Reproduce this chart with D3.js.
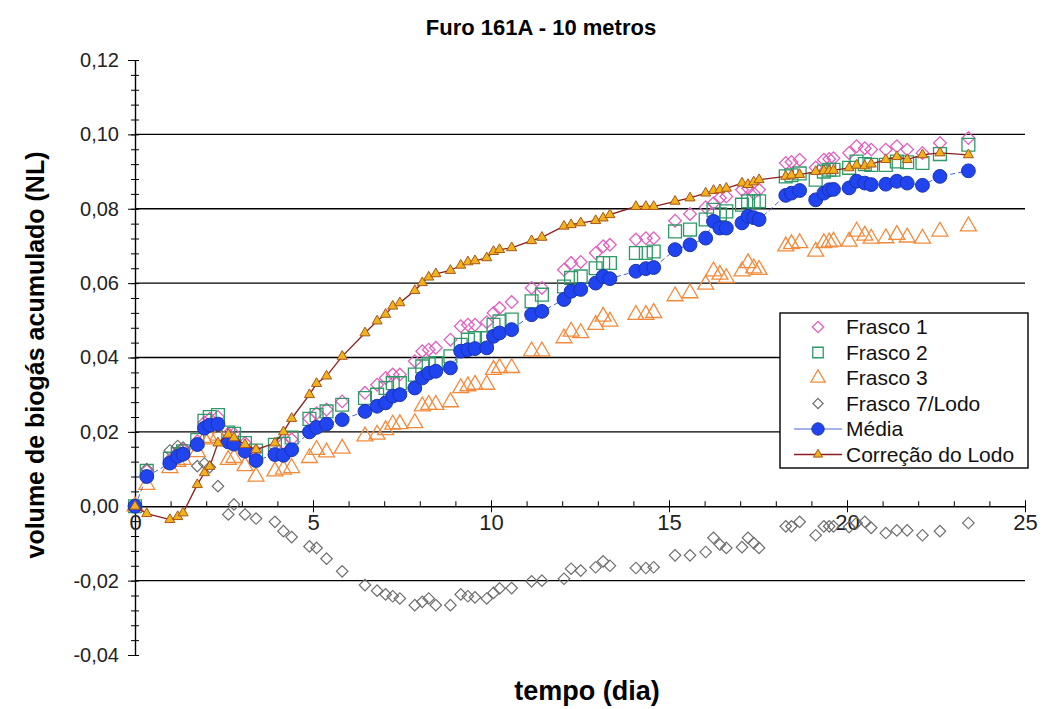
<!DOCTYPE html>
<html>
<head>
<meta charset="utf-8">
<script src="https://cdn.jsdelivr.net/npm/d3@7"></script>
<style>
  body { margin: 0; background: #fff; }
  svg { font-family: "Liberation Sans", Arial, sans-serif; }
</style>
</head>
<body>
<div id="chart"></div>
<script>
// tempo (dia) shared by all series
const tempo = [0, 0.33, 0.98, 1.2, 1.35, 1.75, 1.95, 2.1, 2.33, 2.62, 2.78, 3.09, 3.4, 3.93, 4.17, 4.4, 4.9, 5.1,
  5.38, 5.82, 6.46, 6.8, 7.04, 7.24, 7.44, 7.86, 8.07, 8.25, 8.45, 8.86, 9.15, 9.35, 9.55, 9.88, 10.07, 10.24, 10.58,
  11.14, 11.43, 12.05, 12.25, 12.52, 12.94, 13.15, 13.34, 14.07, 14.35, 14.57, 15.17, 15.59, 16.03, 16.25, 16.43,
  16.61, 17.05, 17.22, 17.38, 17.53, 18.28, 18.44, 18.67, 19.12, 19.35, 19.5, 19.62, 20.06, 20.27, 20.5, 20.68,
  21.09, 21.4, 21.69, 22.12, 22.61, 23.41];

const frasco1 = [0, 0.0095, 0.0125, 0.0145, 0.0152, 0.0175, 0.0225, 0.0235, 0.024, 0.0195, 0.0195, 0.017, 0.0148,
  0.016, 0.017, 0.018, 0.0235, 0.025, 0.026, 0.0282, 0.0305, 0.0327, 0.0345, 0.0354, 0.0354, 0.039, 0.0417, 0.0421,
  0.0426, 0.0448, 0.0484, 0.0488, 0.0488, 0.0495, 0.052, 0.0533, 0.0549, 0.0587, 0.0587, 0.0636, 0.0654, 0.0657,
  0.0681, 0.0699, 0.0703, 0.0717, 0.0721, 0.0721, 0.0768, 0.0786, 0.0804, 0.0815, 0.0829, 0.0833, 0.0851, 0.0855,
  0.0842, 0.0851, 0.0923, 0.0926, 0.0932, 0.0911, 0.0932, 0.0934, 0.0936, 0.095, 0.0968, 0.0963, 0.0959, 0.0959,
  0.0968, 0.0959, 0.095, 0.0977, 0.099];

const frasco2 = [0, 0.0095, 0.0128, 0.014, 0.0148, 0.0178, 0.023, 0.024, 0.0245, 0.0198, 0.0195, 0.017, 0.015,
  0.0165, 0.0168, 0.0185, 0.0235, 0.0245, 0.0255, 0.0273, 0.0291, 0.030, 0.0318, 0.0331, 0.0331, 0.0354, 0.0376,
  0.0382, 0.0385, 0.0403, 0.0434, 0.0448, 0.0452, 0.0452, 0.0488, 0.0497, 0.0502, 0.0551, 0.0569, 0.0591, 0.0614,
  0.0618, 0.064, 0.0654, 0.0654, 0.0681, 0.0681, 0.0685, 0.0739, 0.0744, 0.0771, 0.0797, 0.0785, 0.0793, 0.0811,
  0.082, 0.082, 0.082, 0.0887, 0.089, 0.0895, 0.0878, 0.090, 0.0905, 0.0905, 0.091, 0.0927, 0.092, 0.0918, 0.0918,
  0.0927, 0.0925, 0.0923, 0.0947, 0.0972];

const frasco3 = [0, 0.0058, 0.0103, 0.012, 0.0125, 0.0146, 0.018, 0.0184, 0.019, 0.0125, 0.013, 0.0108, 0.008,
  0.0094, 0.0099, 0.0103, 0.013, 0.0152, 0.0145, 0.0155, 0.0188, 0.0193, 0.0205, 0.022, 0.0221, 0.0224, 0.0269,
  0.0273, 0.0273, 0.028, 0.0318, 0.0323, 0.0327, 0.0327, 0.0367, 0.0372, 0.0372, 0.0417, 0.0417, 0.0452, 0.047,
  0.0466, 0.0488, 0.051, 0.0497, 0.0515, 0.0515, 0.052, 0.0565, 0.0573, 0.0596, 0.0632, 0.0623, 0.0614, 0.0632,
  0.0654, 0.064, 0.0636, 0.0699, 0.0705, 0.0708, 0.0685, 0.0708, 0.071, 0.0712, 0.0712, 0.0739, 0.0728, 0.072,
  0.0721, 0.073, 0.0723, 0.072, 0.0739, 0.0753];

const frasco7 = [0, 0.010, 0.015, 0.0162, 0.0158, 0.0108, 0.0115, 0.0105, 0.0054, -0.0022, 0.0005, -0.0022, -0.0033,
  -0.0042, -0.0067, -0.0083, -0.0108, -0.0112, -0.0141, -0.0175, -0.0212, -0.0227, -0.0237, -0.0242, -0.0248,
  -0.0266, -0.0257, -0.0248, -0.0266, -0.0266, -0.0237, -0.0242, -0.0245, -0.0248, -0.0233, -0.0221, -0.022,
  -0.0202, -0.02, -0.0195, -0.0168, -0.0173, -0.0164, -0.0148, -0.016, -0.0166, -0.0166, -0.0164, -0.0132, -0.0132,
  -0.0123, -0.0085, -0.0103, -0.0112, -0.011, -0.0085, -0.0099, -0.0112, -0.0054, -0.0054, -0.0042, -0.0078,
  -0.0054, -0.0054, -0.0054, -0.0056, -0.0045, -0.0042, -0.0058, -0.0072, -0.0065, -0.0065, -0.0078, -0.0067, -0.0045];

const media = [0, 0.008, 0.0116, 0.0134, 0.014, 0.0166, 0.021, 0.0218, 0.0221, 0.0173, 0.0167, 0.0148, 0.0123,
  0.0139, 0.0137, 0.0152, 0.020, 0.0212, 0.0221, 0.0233, 0.0255, 0.0269, 0.0278, 0.0296, 0.030, 0.0318, 0.0345,
  0.0358, 0.0363, 0.0372, 0.0417, 0.0421, 0.0424, 0.0426, 0.0457, 0.0466, 0.0475, 0.0515, 0.0524, 0.0556, 0.0578,
  0.0583, 0.060, 0.0618, 0.0612, 0.0632, 0.0639, 0.0642, 0.069, 0.0703, 0.0721, 0.0766, 0.0748, 0.0748, 0.0762,
  0.078, 0.0776, 0.0771, 0.0836, 0.0842, 0.0849, 0.0824, 0.0842, 0.0851, 0.0852, 0.0856, 0.0874, 0.0869, 0.0865,
  0.0866, 0.0874, 0.0869, 0.0863, 0.0887, 0.0902];

const correcao = [0, -0.002, -0.0036, -0.0028, -0.0018, 0.0058, 0.009, 0.0107, 0.017, 0.0193, 0.0184, 0.0166,
  0.0152, 0.017, 0.020, 0.0236, 0.030, 0.033, 0.035, 0.0403, 0.0466, 0.0498, 0.0516, 0.0538, 0.0547, 0.058, 0.0601,
  0.0616, 0.0625, 0.0634, 0.0648, 0.0657, 0.066, 0.0668, 0.0685, 0.069, 0.0695, 0.0714, 0.0723, 0.0753, 0.0757,
  0.0762, 0.0768, 0.0775, 0.0784, 0.0806, 0.0806, 0.0806, 0.082, 0.0829, 0.0842, 0.0849, 0.0851, 0.0855, 0.0869,
  0.0865, 0.0872, 0.0878, 0.0887, 0.089, 0.0892, 0.090, 0.0902, 0.0902, 0.0903, 0.091, 0.0917, 0.0915, 0.092,
  0.0932, 0.094, 0.0932, 0.0945, 0.095, 0.0945];

const yTicks = [-0.04, -0.02, 0, 0.02, 0.04, 0.06, 0.08, 0.10, 0.12];
const xTicks = [0, 5, 10, 15, 20, 25];

const W = 1057, H = 709;
const svg = d3.select("#chart").append("svg").attr("width", W).attr("height", H);

const x = d3.scaleLinear().domain([0, 25]).range([135, 1025]);
const y = d3.scaleLinear().domain([-0.04, 0.12]).range([655, 60]);
const fmt = v => d3.format(".2f")(v).replace(".", ",").replace("−", "-");

// gridlines
svg.append("g").selectAll("line")
  .data(yTicks.filter(v => v !== 0 && v !== 0.12 && v !== -0.04))
  .join("line")
  .attr("x1", x(0)).attr("x2", x(25))
  .attr("y1", d => y(d)).attr("y2", d => y(d))
  .attr("stroke", "#000").attr("stroke-width", 1.4);

// y axis
const yAxis = svg.append("g").attr("transform", `translate(${x(0)},0)`)
  .call(d3.axisLeft(y).tickValues(yTicks).tickFormat(fmt).tickSize(7).tickPadding(9).tickSizeOuter(0));
yAxis.selectAll("text").attr("font-size", 20).attr("fill", "#222");
yAxis.select(".domain").attr("stroke-width", 1.4);
svg.append("g").attr("transform", `translate(${x(0) + 4},0)`)
  .call(d3.axisLeft(y).tickValues(d3.range(-40, 121, 4).map(v => v / 1000)).tickFormat("").tickSize(8).tickSizeOuter(0))
  .select(".domain").remove();

// x axis at y = 0
const xAxis = svg.append("g").attr("transform", `translate(0,${y(0)})`)
  .call(d3.axisBottom(x).tickValues(xTicks).tickFormat(d3.format("d")).tickSize(6).tickPadding(2).tickSizeOuter(0));
xAxis.selectAll(".tick line").attr("y1", -6);
xAxis.selectAll("text").attr("font-size", 22).attr("fill", "#222");
xAxis.select(".domain").attr("stroke-width", 1.4);
svg.append("g").attr("transform", `translate(0,${y(0)})`)
  .call(d3.axisBottom(x).tickValues(d3.range(0, 26)).tickFormat("").tickSize(-5).tickSizeOuter(0))
  .select(".domain").remove();

const rows = tempo.map((t, i) => ({ t, f1: frasco1[i], f2: frasco2[i], f3: frasco3[i], f7: frasco7[i], m: media[i], c: correcao[i] }));

const series = [
  { key: "f1", name: "Frasco 1", sym: d3.symbolSquare, size: 80, rot: 45, fill: "none", stroke: "#e060c0", sw: 1.3 },
  { key: "f2", name: "Frasco 2", sym: d3.symbolSquare, size: 165, rot: 0, fill: "none", stroke: "#2f9a68", sw: 1.3 },
  { key: "f3", name: "Frasco 3", sym: d3.symbolTriangle, size: 110, rot: 0, fill: "none", stroke: "#f28a3c", sw: 1.3 },
  { key: "f7", name: "Frasco 7/Lodo", sym: d3.symbolSquare, size: 66, rot: 45, fill: "none", stroke: "#6e6e6e", sw: 1.2 },
  { key: "m", name: "Média", sym: d3.symbolCircle, size: 150, rot: 0, fill: "#1f44f0", stroke: "#1a33b0", sw: 1, line: "#4a66d8", dash: "5,3", lw: 1 },
  { key: "c", name: "Correção do Lodo", sym: d3.symbolTriangle, size: 44, rot: 0, fill: "#f2b21c", stroke: "#a8561c", sw: 1, line: "#8b1e1e", lw: 1.3 }
];

series.forEach(s => {
  if (s.line) {
    svg.append("path").datum(rows)
      .attr("fill", "none").attr("stroke", s.line).attr("stroke-width", s.lw)
      .attr("stroke-dasharray", s.dash || null)
      .attr("d", d3.line().x(d => x(d.t)).y(d => y(d[s.key])));
  }
  svg.append("g").selectAll("path")
    .data(rows)
    .join("path")
    .attr("transform", d => `translate(${x(d.t)},${y(d[s.key])}) rotate(${s.rot})`)
    .attr("d", d3.symbol(s.sym, s.size))
    .attr("fill", s.fill).attr("stroke", s.stroke).attr("stroke-width", s.sw);
});

// legend
const lg = svg.append("g").attr("transform", "translate(780,313)");
lg.append("rect").attr("width", 248).attr("height", 155).attr("fill", "#fff").attr("stroke", "#000").attr("stroke-width", 1.4);
series.forEach((s, i) => {
  const yy = 14 + i * 25.5;
  if (s.line) {
    lg.append("line").attr("x1", 14).attr("x2", 62).attr("y1", yy).attr("y2", yy)
      .attr("stroke", s.line).attr("stroke-width", s.lw);
  }
  lg.append("path")
    .attr("transform", `translate(38,${yy}) rotate(${s.rot})`)
    .attr("d", d3.symbol(s.sym, s.key === "f2" ? 110 : s.size * 0.8))
    .attr("fill", s.fill).attr("stroke", s.stroke).attr("stroke-width", s.sw);
  lg.append("text").attr("x", 66).attr("y", yy).attr("dy", "0.35em")
    .attr("font-size", 21).attr("fill", "#111").text(s.name);
});

// titles
svg.append("text").attr("x", 541).attr("y", 35).attr("text-anchor", "middle")
  .attr("font-size", 22).attr("font-weight", "bold").text("Furo 161A - 10 metros");
svg.append("text").attr("x", 587).attr("y", 700).attr("text-anchor", "middle")
  .attr("font-size", 27).attr("font-weight", "bold").text("tempo (dia)");
svg.append("text").attr("transform", "translate(44,355) rotate(-90)").attr("text-anchor", "middle")
  .attr("font-size", 25).attr("font-weight", "bold").text("volume de biogás acumulado (NL)");
</script>
</body>
</html>
